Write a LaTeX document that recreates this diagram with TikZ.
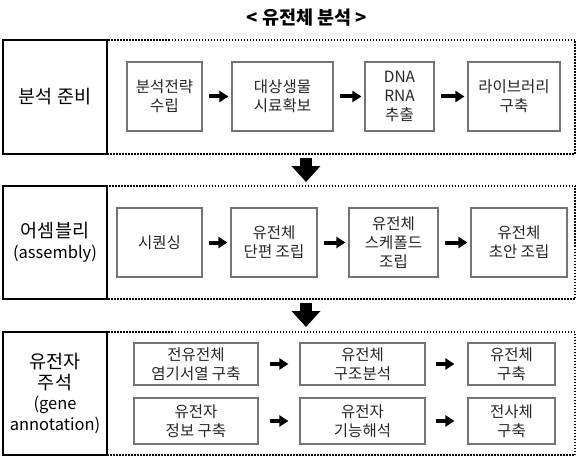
\documentclass[tikz,border=0pt]{standalone}
\usepackage{fontspec}
\setmainfont{Noto Sans CJK KR}
\usetikzlibrary{arrows.meta}

\newcommand\latn[1]{{\fontsize{16.5}{20}\selectfont #1}}

\begin{document}
\begin{tikzpicture}[x=1pt,y=-1pt,
    stage/.style={draw=black,line width=2.6pt,fill=white,minimum width=104pt,align=center,
        font=\fontsize{18.5}{20.5}\selectfont,inner sep=0pt},
    task/.style={draw=black!55,line width=1.2pt,align=center,inner sep=0pt,
        text=black!85,font=\fontsize{15.5}{19}\selectfont},
    area/.style={draw=black,line width=1.8pt,dash pattern=on 1.5pt off 1.5pt},
    flow/.style={line width=4pt,-{Triangle[length=9pt,width=11pt]},shorten <=6pt,shorten >=3pt},
    down/.style={line width=12pt,-{Triangle[length=16pt,width=28pt]}}]
        \useasboundingbox (0,0) rectangle (577,457);
        \node(title) at (307,18) {\fontsize{18.5}{21}\selectfont\bfseries < 유전체 분석 >};

        % 분석 준비
        \draw[area] (107,40) rectangle (575,154);
        \node[stage,minimum height=114pt](prep) at (55,97) {분석 준비};
        \node[task,minimum width=75pt,minimum height=69pt](p1) at (164.5,96.5) {분석전략\\수립};
        \node[task,minimum width=101pt,minimum height=69pt](p2) at (282.5,96.5) {대상생물\\시료확보};
        \node[task,minimum width=69pt,minimum height=69pt](p3) at (399.5,96.5) {DNA\\RNA\\추출};
        \node[task,minimum width=92pt,minimum height=69pt](p4) at (514,96.5) {라이브러리\\구축};
        \draw[flow](p1)--(p2);
        \draw[flow](p2)--(p3);
        \draw[flow](p3)--(p4);

        \coordinate(d1) at (306,158);
        \coordinate(d2) at (306,182);
        \draw[down](d1)--(d2);

        % 어셈블리
        \draw[area] (107,186) rectangle (575,299);
        \node[stage,minimum height=113pt](asm) at (55,242.5) {어셈블리\\\latn{(assembly)}};
        \node[task,minimum width=85pt,minimum height=69pt](a1) at (159.5,242.5) {시퀀싱};
        \node[task,minimum width=86pt,minimum height=69pt](a2) at (274,242.5) {유전체\\단편 조립};
        \node[task,minimum width=89pt,minimum height=69pt](a3) at (393.5,242.5) {유전체\\스케폴드\\조립};
        \node[task,minimum width=96pt,minimum height=69pt](a4) at (519,242.5) {유전체\\초안 조립};
        \draw[flow](a1)--(a2);
        \draw[flow](a2)--(a3);
        \draw[flow](a3)--(a4);

        \coordinate(d3) at (306,303);
        \coordinate(d4) at (306,327);
        \draw[down](d3)--(d4);

        % 유전자 주석
        \draw[area] (107,332) rectangle (575,455);
        \node[stage,minimum height=123pt](annot) at (55,393.5) {유전자\\주석\\\latn{(gene}\\\latn{annotation)}};
        \node[task,minimum width=124pt,minimum height=42pt](g1) at (196,364) {전유전체\\염기서열 구축};
        \node[task,minimum width=125pt,minimum height=42pt](g2) at (362.5,364) {유전체\\구조분석};
        \node[task,minimum width=87pt,minimum height=42pt](g3) at (511.5,364) {유전체\\구축};
        \node[task,minimum width=124pt,minimum height=46pt](g4) at (196,421) {유전자\\정보 구축};
        \node[task,minimum width=125pt,minimum height=46pt](g5) at (362.5,421) {유전자\\기능해석};
        \node[task,minimum width=87pt,minimum height=46pt](g6) at (511.5,421) {전사체\\구축};
        \draw[flow,shorten <=11pt,shorten >=11pt](g1)--(g2);
        \draw[flow,shorten <=10pt,shorten >=13pt](g2)--(g3);
        \draw[flow,shorten <=11pt,shorten >=11pt](g4)--(g5);
        \draw[flow,shorten <=10pt,shorten >=13pt](g5)--(g6);
\end{tikzpicture}
\end{document}
